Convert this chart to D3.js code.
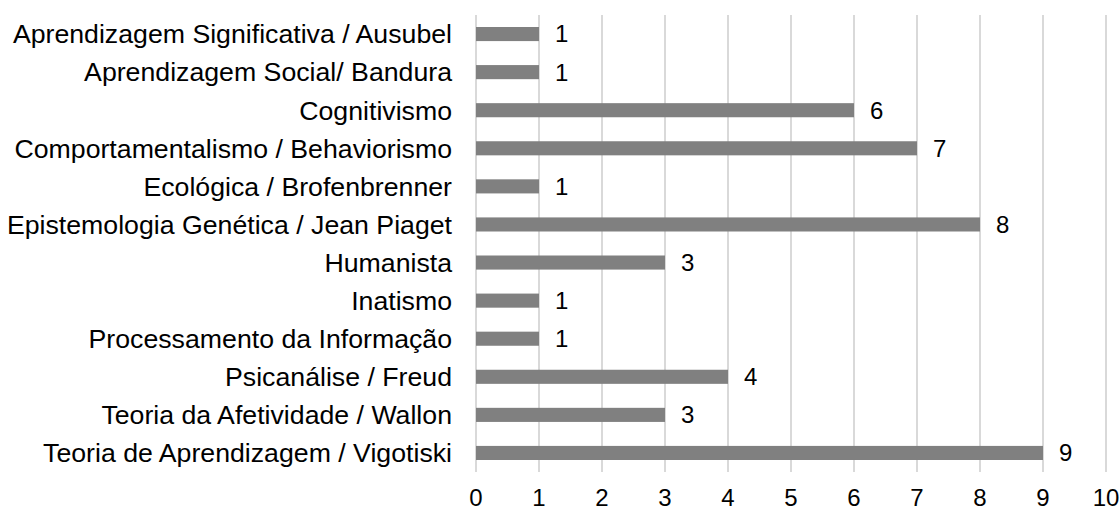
<!DOCTYPE html>
<html><head><meta charset="utf-8">
<script src="https://cdn.jsdelivr.net/npm/d3@7"></script>
<style>body{margin:0;background:#fff}svg{display:block}text{font-family:"Liberation Sans",Arial,sans-serif}</style>
</head><body><svg id="c" width="1120" height="510"></svg>
<script>
const categories = ["Aprendizagem Significativa / Ausubel","Aprendizagem Social/ Bandura","Cognitivismo","Comportamentalismo / Behaviorismo","Ecológica / Brofenbrenner","Epistemologia Genética / Jean Piaget","Humanista","Inatismo","Processamento da Informação","Psicanálise / Freud","Teoria da Afetividade / Wallon","Teoria de Aprendizagem / Vigotiski"];
const values = [1,1,6,7,1,8,3,1,1,4,3,9];
const ticks = [0,1,2,3,4,5,6,7,8,9,10];

const svg = d3.select("#c");
const x = d3.scaleLinear().domain([0,10]).range([476,1106]);
const y = d3.scaleBand().domain(categories).range([15,472]).paddingInner(0.63).paddingOuter(0.315);

svg.append("g").selectAll("line").data(ticks).join("line")
  .attr("x1",d=>x(d)).attr("x2",d=>x(d)).attr("y1",15).attr("y2",472)
  .attr("stroke","#d9d9d9").attr("stroke-width",2);

svg.append("g").selectAll("rect").data(values).join("rect")
  .attr("x",x(0)).attr("y",(d,i)=>y(categories[i]))
  .attr("width",d=>x(d)-x(0)).attr("height",y.bandwidth())
  .attr("fill","#808080");

svg.append("g").selectAll("text").data(values).join("text")
  .attr("x",d=>x(d)+16).attr("y",(d,i)=>y(categories[i])+y.bandwidth()/2)
  .attr("dy","0.35em").attr("font-size",24).attr("fill","#000").text(d=>d);

svg.append("g").selectAll("text").data(categories).join("text")
  .attr("x",452).attr("y",d=>y(d)+y.bandwidth()/2).attr("dy","0.35em")
  .attr("text-anchor","end").attr("font-size",26.7).attr("fill","#000").text(d=>d);

svg.append("g").selectAll("text").data(ticks).join("text")
  .attr("x",d=>x(d)).attr("y",498).attr("dy","0.35em")
  .attr("text-anchor","middle").attr("font-size",24).attr("fill","#000").text(d=>d);
</script></body></html>
